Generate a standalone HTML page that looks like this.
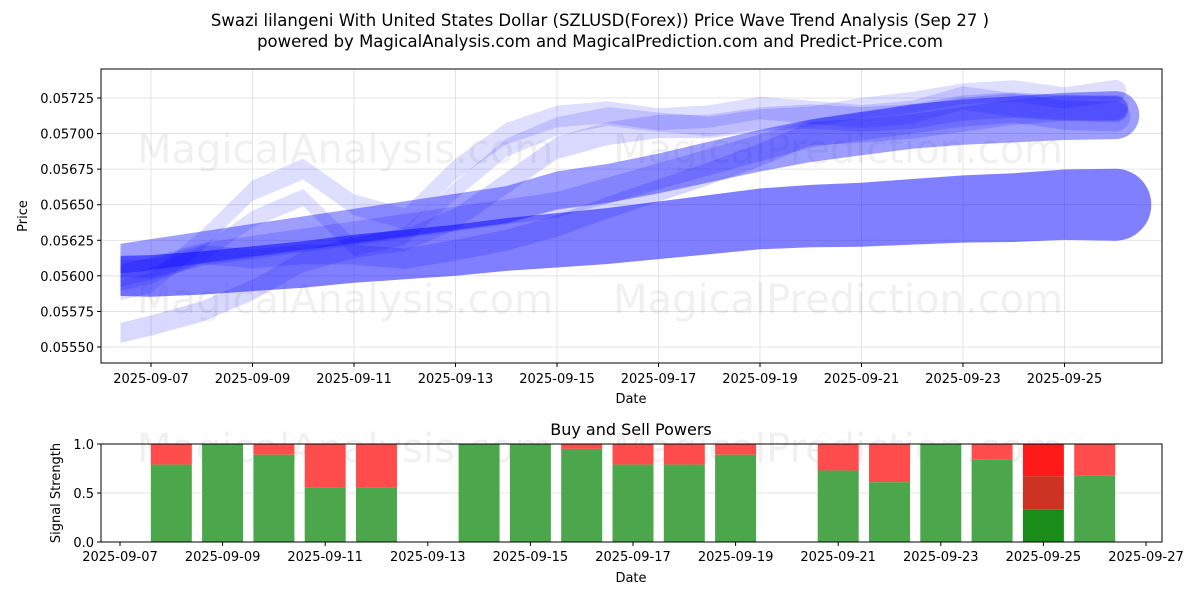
<!DOCTYPE html>
<html><head><meta charset="utf-8">
<style>
html,body{margin:0;padding:0;background:#fff;}
svg{display:block;font-family:"DejaVu Sans","Liberation Sans",sans-serif;}
</style></head>
<body>
<svg id="chart" width="1200" height="600" viewBox="0 0 1200 600">
<rect width="1200" height="600" fill="#fff"/>
<text x="600" y="26" text-anchor="middle" font-size="16.5">Swazi lilangeni With United States Dollar (SZLUSD(Forex)) Price Wave Trend Analysis (Sep 27 )</text>
<text x="600" y="47" text-anchor="middle" font-size="16.5">powered by MagicalAnalysis.com and MagicalPrediction.com and Predict-Price.com</text>
<g id="top"></g>
<g id="bottom"></g>
</svg>
<script>
// ---- price panel data (day offset from 2025-09-07) ----
const priceDays = [-0.6, 0, 1, 2, 3, 4, 5, 6, 7, 8, 9, 10, 11, 12, 13, 14, 15, 16, 17, 18, 19];
const waveA = [0.05600,0.05605,0.05615,0.05620,0.05625,0.05630,0.05635,0.05640,0.05645,0.05650,0.05660,0.05670,0.05680,0.05690,0.05700,0.05705,0.05710,0.05715,0.05718,0.05713,0.05712];
const waveB = [0.05605,0.05605,0.05615,0.05612,0.05615,0.05615,0.05612,0.05618,0.05625,0.05635,0.05648,0.05660,0.05672,0.05685,0.05700,0.05702,0.05705,0.05710,0.05715,0.05718,0.05717];
const waveC = [0.05590,0.05595,0.05625,0.05660,0.05675,0.05650,0.05640,0.05675,0.05700,0.05712,0.05715,0.05710,0.05712,0.05718,0.05715,0.05712,0.05715,0.05725,0.05720,0.05718,0.05718];
const waveD = [0.05595,0.05600,0.05615,0.05640,0.05655,0.05620,0.05628,0.05660,0.05690,0.05705,0.05712,0.05708,0.05705,0.05710,0.05712,0.05718,0.05722,0.05728,0.05730,0.05725,0.05730];
const waveE = [0.05560,0.05565,0.05575,0.05590,0.05610,0.05620,0.05625,0.05640,0.05665,0.05690,0.05700,0.05705,0.05705,0.05710,0.05712,0.05710,0.05712,0.05718,0.05720,0.05718,0.05718];
const bandLow = [0.05600,0.05600,0.05602,0.05605,0.05608,0.05612,0.05615,0.05618,0.05622,0.05625,0.05628,0.05632,0.05636,0.05640,0.05642,0.05643,0.05645,0.05647,0.05648,0.05650,0.05650];
const bandMid = [0.05612,0.05615,0.05620,0.05625,0.05630,0.05635,0.05640,0.05645,0.05650,0.05660,0.05665,0.05672,0.05680,0.05688,0.05695,0.05700,0.05705,0.05708,0.05710,0.05712,0.05713];
const seriesList = [
 {v: bandLow, w0: 40, w1: 72, a: 0.5},
 {v: bandMid, w0: 30, w1: 48, a: 0.38},
 {v: waveA, w0: 22, w1: 30, a: 0.16},
 {v: waveB, w0: 18, w1: 26, a: 0.16},
 {v: waveC, w0: 20, w1: 24, a: 0.13},
 {v: waveD, w0: 16, w1: 22, a: 0.13},
 {v: waveE, w0: 20, w1: 26, a: 0.15}
];
const priceTicks = [0.05550,0.05575,0.05600,0.05625,0.05650,0.05675,0.05700,0.05725];
const dateTicksTop = ["2025-09-07","2025-09-09","2025-09-11","2025-09-13","2025-09-15","2025-09-17","2025-09-19","2025-09-21","2025-09-23","2025-09-25"];
// ---- signal panel data (day offset from 2025-09-07) ----
const sigDays = [1,2,3,4,5,7,8,9,10,11,12,14,15,16,17,18,19];
const buyVals = [0.79,1.0,0.89,0.56,0.56,1.0,1.0,0.95,0.79,0.79,0.89,0.73,0.61,1.0,0.84,0.33,0.68];
const dateTicksBottom = ["2025-09-07","2025-09-09","2025-09-11","2025-09-13","2025-09-15","2025-09-17","2025-09-19","2025-09-21","2025-09-23","2025-09-25","2025-09-27"];
const sigTicks = [0.0,0.5,1.0];

const NS="http://www.w3.org/2000/svg";
function mk(tag, attrs, parent){const e=document.createElementNS(NS,tag);for(const k in attrs)e.setAttribute(k,attrs[k]);parent.appendChild(e);return e;}

const T={x0:101,x1:1162,y0:69,y1:363};
const xTop=d=>151+d*50.75;
const yTop=p=>98+(0.05725-p)/0.00025*35.57;
const topG=document.getElementById('top');
priceTicks.forEach(p=>{const y=yTop(p);
 const g=mk('line',{x1:T.x0,x2:T.x1,y1:y,y2:y,stroke:'#ddd','stroke-width':0.8},topG);
 
 
 const t=mk('text',{x:T.x0-7,y:y+5,'text-anchor':'end','font-size':13},topG);t.textContent=p.toFixed(5);
 
 
 mk('line',{x1:T.x0-4,x2:T.x0,y1:y,y2:y,stroke:'#000'},topG);
});
dateTicksTop.forEach((s,i)=>{const x=xTop(i*2);
 const g=mk('line',{x1:x,x2:x,y1:T.y0,y2:T.y1,stroke:'#ddd','stroke-width':0.8},topG);
 
 
 mk('line',{x1:x,x2:x,y1:T.y1,y2:T.y1+4,stroke:'#000'},topG);
 const t=mk('text',{x:x,y:T.y1+20,'text-anchor':'middle','font-size':13},topG);t.textContent=s;
 
 
});
[["MagicalAnalysis.com",345,163],["MagicalPrediction.com",838,163],["MagicalAnalysis.com",345,313],["MagicalPrediction.com",838,313]].forEach(w=>{
 const t=mk('text',{x:w[1],y:w[2],'text-anchor':'middle','font-size':40,fill:'#000','fill-opacity':0.06},topG);t.textContent=w[0];
 
 
});
const clip=mk('clipPath',{id:'cp'},topG);mk('rect',{x:T.x0,y:T.y0,width:T.x1-T.x0,height:T.y1-T.y0},clip);
const lines=mk('g',{'clip-path':'url(#cp)'},topG);
seriesList.forEach(s=>{
 const n=priceDays.length;
 const up=[],lo=[];
 let rEnd=0;
 for(let i=0;i<n;i++){
  const w=s.w0+(s.w1-s.w0)*(i/(n-1));
  const x=xTop(priceDays[i]),y=yTop(s.v[i]);
  up.push([x,y-w/2]);lo.push([x,y+w/2]);
  if(i===n-1)rEnd=w/2;
 }
 let d='M'+up.map(p=>p[0].toFixed(1)+' '+p[1].toFixed(1)).join(' L');
 const last=lo[n-1];
 d+=' A'+rEnd+' '+rEnd+' 0 0 1 '+last[0].toFixed(1)+' '+last[1].toFixed(1);
 for(let i=n-2;i>=0;i--)d+=' L'+lo[i][0].toFixed(1)+' '+lo[i][1].toFixed(1);
 d+=' Z';
 const p=mk('path',{d:d,fill:'rgb(0,0,255)','fill-opacity':s.a},lines);
 
 
});
mk('rect',{x:T.x0,y:T.y0,width:T.x1-T.x0,height:T.y1-T.y0,fill:'none',stroke:'#000','stroke-width':1},topG);
let t=mk('text',{x:631,y:403,'text-anchor':'middle','font-size':13},topG);t.textContent='Date';


t=mk('text',{x:27,y:216,'text-anchor':'middle','font-size':13,transform:'rotate(-90 27 216)'},topG);t.textContent='Price';



const B={x0:101,x1:1162,y0:444,y1:542};
const xB=d=>120+d*51.3;
const yB=v=>B.y1-v*(B.y1-B.y0);
const bot=document.getElementById('bottom');
t=mk('text',{x:631,y:435,'text-anchor':'middle','font-size':16},bot);t.textContent='Buy and Sell Powers';


[["MagicalAnalysis.com",345,462],["MagicalPrediction.com",838,462]].forEach(w=>{
 const q=mk('text',{x:w[1],y:w[2],'text-anchor':'middle','font-size':40,fill:'#000','fill-opacity':0.06},bot);q.textContent=w[0];
 
 
});
sigTicks.forEach(v=>{const y=yB(v);
 mk('line',{x1:B.x0,x2:B.x1,y1:y,y2:y,stroke:'#ddd','stroke-width':0.8},bot);
 mk('line',{x1:B.x0-4,x2:B.x0,y1:y,y2:y,stroke:'#000'},bot);
 const q=mk('text',{x:B.x0-7,y:y+5,'text-anchor':'end','font-size':13},bot);q.textContent=v.toFixed(1);
 
 
});
const bw=41;
sigDays.forEach((d,i)=>{const cx=xB(d);const b=buyVals[i];
 if(d===18){
  const r1=mk('rect',{x:cx-bw/2,y:yB(1),width:bw,height:yB(0.67)-yB(1),fill:'#ff1a1a'},bot);
  
  
  const r2=mk('rect',{x:cx-bw/2,y:yB(0.67),width:bw,height:yB(b)-yB(0.67),fill:'#cc3322'},bot);
  
  
  const r3=mk('rect',{x:cx-bw/2,y:yB(b),width:bw,height:yB(0)-yB(b),fill:'#1a8c1a'},bot);
  
  
 } else {
  const r1=mk('rect',{x:cx-bw/2,y:yB(1),width:bw,height:yB(b)-yB(1),fill:'#ff4d4d'},bot);
  
  
  const r2=mk('rect',{x:cx-bw/2,y:yB(b),width:bw,height:yB(0)-yB(b),fill:'#4ca64c'},bot);
  
  
 }
});
dateTicksBottom.forEach((s,i)=>{const x=xB(i*2);
 mk('line',{x1:x,x2:x,y1:B.y1,y2:B.y1+4,stroke:'#000'},bot);
 const q=mk('text',{x:x,y:B.y1+19,'text-anchor':'middle','font-size':13},bot);q.textContent=s;
 
 
});
mk('rect',{x:B.x0,y:B.y0,width:B.x1-B.x0,height:B.y1-B.y0,fill:'none',stroke:'#000','stroke-width':1},bot);
t=mk('text',{x:631,y:582,'text-anchor':'middle','font-size':13},bot);t.textContent='Date';


t=mk('text',{x:60,y:493,'text-anchor':'middle','font-size':13,transform:'rotate(-90 60 493)'},bot);t.textContent='Signal Strength';


</script>
</body></html>
